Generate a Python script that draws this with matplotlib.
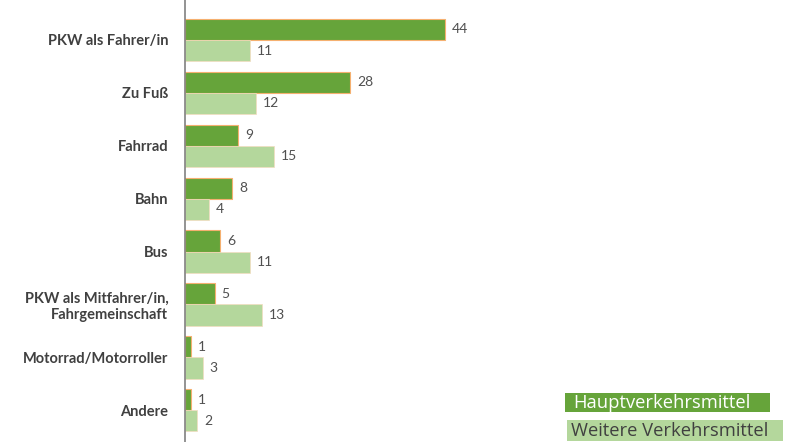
import numpy as np
from matplotlib import pyplot as plt
from matplotlib.patches import Rectangle

plt.rcParams['font.family'] = ['Lato', 'DejaVu Sans']

# categories from top to bottom
categories = ['PKW als Fahrer/in', 'Zu Fuß', 'Fahrrad', 'Bahn', 'Bus',
              'PKW als Mitfahrer/in,\nFahrgemeinschaft', 'Motorrad/Motorroller', 'Andere']
haupt = [44, 28, 9, 8, 6, 5, 1, 1]
weitere = [11, 12, 15, 4, 11, 13, 3, 2]
series_names = ['Hauptverkehrsmittel', 'Weitere Verkehrsmittel']

dark = '#66a43a'
light = '#b4d79c'
txt = '#404040'

W, H = 788, 442
fig = plt.figure(figsize=(W / 100, H / 100), dpi=100)
ax = fig.add_axes([185 / W, 0, 354 / W, 1])

y = np.arange(len(categories))
h = 0.40
ax.barh(y - h / 2, haupt, height=h, color=dark, edgecolor='#f5b070', linewidth=0.8)
ax.barh(y + h / 2, weitere, height=h, color=light, edgecolor='#f3dcc0', linewidth=0.5)

for yi, v in zip(y, haupt):
    ax.text(v + 1.2, yi - h / 2, str(v), va='center', ha='left', fontsize=10, color='#505050')
for yi, v in zip(y, weitere):
    ax.text(v + 1.2, yi + h / 2, str(v), va='center', ha='left', fontsize=10, color='#505050')

ax.set_xlim(0, 60)
ax.set_ylim(7.6, -0.756)
ax.set_yticks(y)
ax.set_yticklabels(categories, fontsize=10.5, fontweight='bold', color=txt)
ax.tick_params(axis='y', length=0, pad=12)
ax.set_xticks([])
for s in ['top', 'right', 'bottom']:
    ax.spines[s].set_visible(False)
ax.spines['left'].set_color('#808080')
ax.spines['left'].set_linewidth(1.2)

# legend as coloured boxes with text
fig.patches.append(Rectangle((565 / W, 1 - 412 / H), 205 / W, 19 / H, transform=fig.transFigure,
                             facecolor=dark, edgecolor='none'))
fig.patches.append(Rectangle((567 / W, 1 - 441 / H), 216 / W, 21 / H, transform=fig.transFigure,
                             facecolor=light, edgecolor='none'))
fig.text(573 / W, 1 - 402.5 / H, series_names[0], fontsize=13.2, color='white', va='center', ha='left',
         family=['Open Sans', 'DejaVu Sans'])
fig.text(571 / W, 1 - 430.5 / H, series_names[1], fontsize=13.2, color='#404040', va='center', ha='left',
         family=['Open Sans', 'DejaVu Sans'])

fig.savefig('out.png', dpi=100)
